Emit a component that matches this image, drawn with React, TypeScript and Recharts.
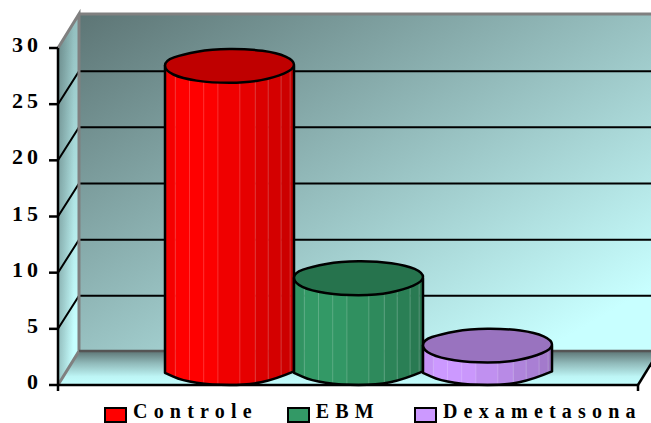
import React from "react";
import { BarChart, Bar, XAxis, YAxis, Legend, Customized, usePlotArea } from "recharts";

// Single group with three treatments
const categories: string[] = ["Tratamento"];
const seriesNames: string[] = ["Controle", "EBM", "Dexametasona"];
const seriesValues: number[] = [26.9, 8, 2];
const seriesColors: string[] = ["#ff0000", "#339966", "#cc99ff"];
const yTicks: number[] = [0, 5, 10, 15, 20, 25, 30];

const chartData = categories.map((name) => {
  const row: any = { name };
  seriesNames.forEach((s, i) => {
    row[s] = seriesValues[i];
  });
  return row;
});

// 3D box depth, in pixels
const DEPTH_X = 21;
const DEPTH_Y = 34;
const GRID_DEPTH_Y = 33;
const RIM_HEIGHT = 34;
const FONT = "'Liberation Serif', serif";

// Rim outline of a cylinder, normalised to its bounding box, clockwise from the left
const rimOutline: [number, number][] = [
  [0, 0.34], [0.14, 0.16], [0.36, 0.01], [0.64, 0], [0.87, 0.12], [1, 0.34],
  [1, 0.6], [0.85, 0.84], [0.64, 1], [0.36, 1], [0.13, 0.87], [0, 0.64],
];

// Facet edges around the body, with a shade for each facet
const facetEdges = [0, 0.08, 0.19, 0.3, 0.41, 0.58, 0.7, 0.8, 0.9, 0.97, 1];
const facetShades = [0.96, 1, 1, 0.99, 0.94, 0.9, 0.86, 0.83, 0.8, 0.76];

const shade = (hex: string, k: number) => {
  const n = parseInt(hex.slice(1), 16);
  const c = [(n >> 16) & 255, (n >> 8) & 255, n & 255].map((v) => Math.round(v * k));
  return `rgb(${c[0]},${c[1]},${c[2]})`;
};

const mid = (a: number[], b: number[]) => [(a[0] + b[0]) / 2, (a[1] + b[1]) / 2];

// Closed curve through the midpoints of an outline
const closedCurve = (p: number[][]) => {
  let d = `M${mid(p[p.length - 1], p[0]).join(",")}`;
  p.forEach((q, i) => {
    d += ` Q${q.join(",")} ${mid(q, p[(i + 1) % p.length]).join(",")}`;
  });
  return d + " Z";
};

// Open curve, continuing from the current point
const openCurve = (p: number[][]) => {
  let d = `L${p[0].join(",")}`;
  for (let i = 1; i < p.length - 1; i++) {
    d += ` Q${p[i].join(",")} ${mid(p[i], p[i + 1]).join(",")}`;
  }
  return d + ` L${p[p.length - 1].join(",")}`;
};

function Cylinder(props: any) {
  const { x, y, width, height, fill, index, dataKey } = props;
  const left = x + DEPTH_X / 2;
  const top = y - RIM_HEIGHT / 2;
  const bottom = y + height - RIM_HEIGHT / 2;

  const pts = (cy: number) =>
    rimOutline.map(([u, v]) => [left + u * width, cy - RIM_HEIGHT / 2 + v * RIM_HEIGHT]);

  // Lower half of the rim closes the body at the floor
  const lower = pts(bottom).slice(6);
  const bodyD = `M${left},${top} L${left + width},${top} ${openCurve(lower)} L${left},${top} Z`;
  const clipId = `body-${dataKey}-${index}`.replace(/\s/g, "");

  return (
    <g>
      <clipPath id={clipId}>
        <path d={bodyD} />
      </clipPath>
      <g clipPath={`url(#${clipId})`}>
        {facetShades.map((k, i) => (
          <rect
            key={i}
            x={left + facetEdges[i] * width}
            y={top}
            width={(facetEdges[i + 1] - facetEdges[i]) * width + 0.5}
            height={height + RIM_HEIGHT}
            fill={shade(fill, k)}
          />
        ))}
        {facetEdges.slice(1, -1).map((e, i) => (
          <line
            key={i}
            x1={left + e * width}
            x2={left + e * width}
            y1={top}
            y2={bottom + RIM_HEIGHT}
            stroke="#fff"
            strokeOpacity={0.2}
            strokeWidth={1}
          />
        ))}
      </g>
      <path d={bodyD} fill="none" stroke="#000" strokeWidth={2.5} strokeLinejoin="round" />
      <path d={closedCurve(pts(top))} fill={shade(fill, 0.75)} stroke="#000" strokeWidth={2.5} strokeLinejoin="round" />
    </g>
  );
}

// Back wall, side wall and floor behind the cylinders
function Walls() {
  const plot = usePlotArea();
  if (!plot) return null;
  const x0 = plot.x;
  const x1 = plot.x + plot.width;
  const yFloor = plot.y + plot.height;
  const yTop = plot.y;
  const backX = x0 + DEPTH_X;
  const farX = x1 + DEPTH_X;
  const at = (t: number) => yFloor - (t / 30) * plot.height;
  const sidePoints = `${x0},${yTop} ${backX},${yTop - DEPTH_Y} ${backX},${yFloor - DEPTH_Y} ${x0},${yFloor}`;

  return (
    <g>
      <defs>
        <linearGradient id="backWall" x1="0" y1="0" x2="1" y2="1">
          <stop offset="0%" stopColor="#5d7575" />
          <stop offset="90%" stopColor="#c8ffff" />
          <stop offset="100%" stopColor="#c8ffff" />
        </linearGradient>
        <linearGradient id="sideWall" x1="0" y1="0" x2="0.25" y2="1">
          <stop offset="0%" stopColor="#86aeae" />
          <stop offset="100%" stopColor="#c6ffff" />
        </linearGradient>
        <linearGradient id="sideShade" x1="0" y1="0" x2="1" y2="0">
          <stop offset="0%" stopColor="#000" stopOpacity={0.22} />
          <stop offset="75%" stopColor="#000" stopOpacity={0} />
        </linearGradient>
        <linearGradient id="floor" x1="0" y1="0" x2="0" y2="1">
          <stop offset="0%" stopColor="#5d7575" />
          <stop offset="35%" stopColor="#8fb8b8" />
          <stop offset="75%" stopColor="#bdf5f5" />
          <stop offset="100%" stopColor="#c4ffff" />
        </linearGradient>
      </defs>
      <polygon
        points={`${backX},${yTop - DEPTH_Y} ${farX},${yTop - DEPTH_Y} ${farX},${yFloor - DEPTH_Y} ${backX},${yFloor - DEPTH_Y}`}
        fill="url(#backWall)"
      />
      <polygon points={sidePoints} fill="url(#sideWall)" />
      <polygon points={sidePoints} fill="url(#sideShade)" />
      <polygon
        points={`${x0},${yFloor} ${backX},${yFloor - DEPTH_Y} ${farX},${yFloor - DEPTH_Y} ${x1},${yFloor}`}
        fill="url(#floor)"
      />
      {yTicks.slice(1, -1).map((t) => (
        <polyline
          key={t}
          points={`${x0},${at(t)} ${backX},${at(t) - GRID_DEPTH_Y} ${farX},${at(t) - GRID_DEPTH_Y}`}
          fill="none"
          stroke="#000"
          strokeWidth={2}
        />
      ))}
      <polyline
        points={`${x0},${yFloor} ${backX},${yFloor - DEPTH_Y} ${backX},${yTop - DEPTH_Y} ${x0},${yTop} ${backX},${yTop - DEPTH_Y} ${farX},${yTop - DEPTH_Y}`}
        fill="none"
        stroke="#808080"
        strokeWidth={3}
      />
      <line x1={backX} x2={farX} y1={yFloor - DEPTH_Y} y2={yFloor - DEPTH_Y} stroke="#555" strokeWidth={2.5} />
      <line x1={x1} x2={farX} y1={yFloor} y2={yFloor - DEPTH_Y} stroke="#000" strokeWidth={2.5} />
      <line x1={x0} x2={x0} y1={yFloor} y2={yFloor + 6} stroke="#000" strokeWidth={2.5} />
      <line x1={x1} x2={x1} y1={yFloor} y2={yFloor + 6} stroke="#000" strokeWidth={2.5} />
    </g>
  );
}

function SpacedTick(props: any) {
  const { x, y, payload } = props;
  return (
    <text
      x={x}
      y={y}
      dy={4}
      textAnchor="end"
      fontFamily={FONT}
      fontWeight={700}
      fontSize={22}
      letterSpacing={4}
      fill="#000"
    >
      {payload.value}
    </text>
  );
}

const legendGaps = [29, 34, 0];

function LegendBlock(props: any) {
  const items: any[] = props.payload || [];
  return (
    <div style={{ display: "flex", paddingLeft: 104 }}>
      {items.map((item, i) => (
        <div key={item.value} style={{ display: "flex", alignItems: "flex-start", marginRight: legendGaps[i] }}>
          <span
            style={{
              width: 19,
              height: 12,
              background: item.color,
              border: "2px solid #000",
              marginTop: 7,
              marginRight: 6,
              display: "inline-block",
            }}
          />
          <span
            style={{
              fontFamily: FONT,
              fontWeight: 700,
              fontSize: 20,
              lineHeight: "23px",
              letterSpacing: 6.2,
              whiteSpace: "nowrap",
              color: "#000",
            }}
          >
            {item.value}
          </span>
        </div>
      ))}
    </div>
  );
}

export default function App() {
  return (
    <div style={{ position: "absolute", left: 0, top: 0, width: 651, height: 423, overflow: "hidden", background: "#fff" }}>
      <BarChart
        width={651}
        height={423}
        data={chartData}
        barGap={0}
        barCategoryGap={96.5}
        margin={{ top: 48, right: 13, bottom: 37, left: 0 }}
      >
        <Customized component={Walls} />
        <XAxis dataKey="name" tick={false} tickLine={false} height={1} axisLine={{ stroke: "#000", strokeWidth: 2.5 }} />
        <YAxis
          width={58}
          domain={[0, 30]}
          ticks={yTicks}
          interval={0}
          tickSize={9}
          tickMargin={7}
          axisLine={{ stroke: "#000", strokeWidth: 2.5 }}
          tickLine={{ stroke: "#000", strokeWidth: 2.5 }}
          tick={<SpacedTick />}
        />
        <Legend
          layout="horizontal"
          align="center"
          verticalAlign="middle"
          itemSorter={null}
          content={<LegendBlock />}
          wrapperStyle={{ top: 400, left: 0, width: 651, height: 23 }}
        />
        {seriesNames.map((s, i) => (
          <Bar key={s} dataKey={s} fill={seriesColors[i]} isAnimationActive={false} shape={<Cylinder />} />
        ))}
      </BarChart>
    </div>
  );
}
